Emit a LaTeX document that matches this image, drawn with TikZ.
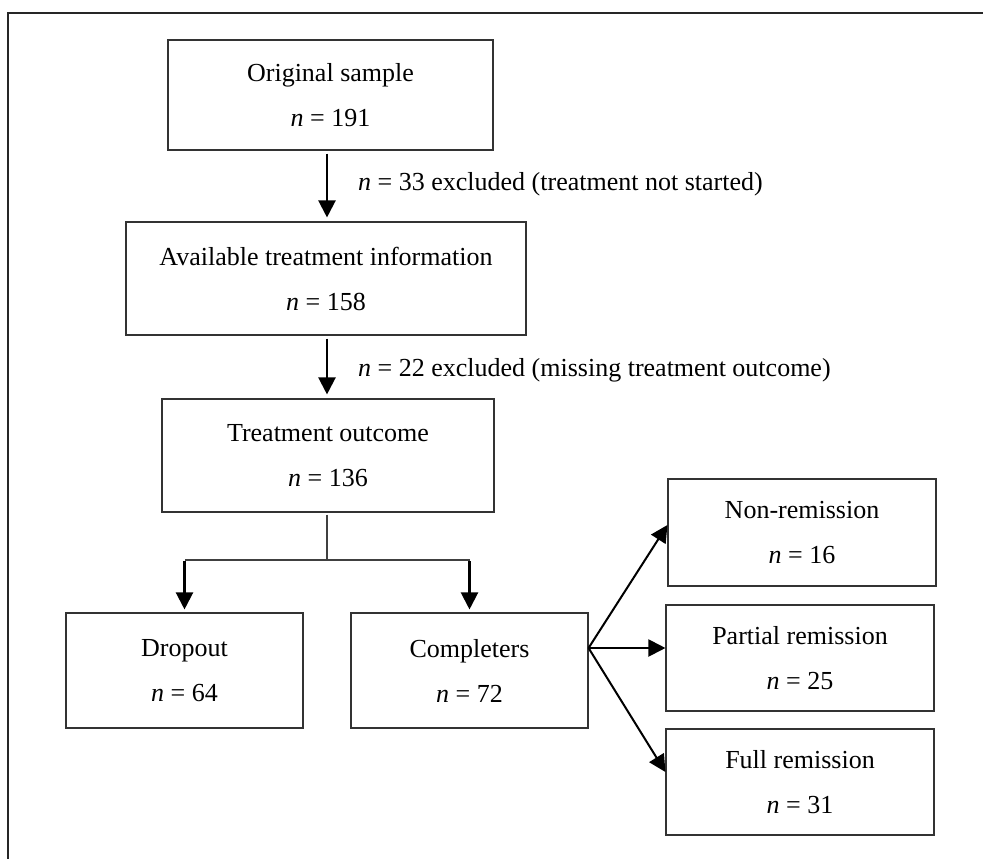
\documentclass[tikz,border=0pt]{standalone}
\usepackage{fontspec}
\setmainfont{Liberation Serif}
\usetikzlibrary{arrows.meta}
\tikzset{
  box/.style={draw=black!80, line width=1.1pt, fill=white, align=center,
    font=\fontsize{26}{45}\selectfont, inner sep=0pt},
  arr/.style={draw=black, line width=2.2pt, -{Triangle[length=17pt,width=17pt]}},
  thin/.style={draw=black!75, line width=1.1pt},
  lbl/.style={anchor=west, inner sep=0pt, font=\fontsize{26}{28}\selectfont},
}
\begin{document}
\begin{tikzpicture}[x=1pt,y=-1pt]
\useasboundingbox (0,0) rectangle (983,859);
\draw[line width=2.2pt, black!85] (8,859) -- (8,13) -- (983,13);
\node[box, minimum width=325pt, minimum height=110pt] (orig) at (330.5,95) {Original sample\\\textit{n} = 191};
\node[box, minimum width=400pt, minimum height=113pt] (avail) at (326,278.5) {Available treatment information\\\textit{n} = 158};
\node[box, minimum width=332pt, minimum height=113pt] (outc) at (328,455.5) {Treatment outcome\\\textit{n} = 136};
\node[box, minimum width=237pt, minimum height=115pt] (drop) at (184.5,670.5) {Dropout\\\textit{n} = 64};
\node[box, minimum width=237pt, minimum height=115pt] (comp) at (469.5,670.5) {Completers\\\textit{n} = 72};
\node[box, minimum width=268pt, minimum height=107pt] (nonr) at (802,532.5) {Non-remission\\\textit{n} = 16};
\node[box, minimum width=268pt, minimum height=106pt] (part) at (800,658) {Partial remission\\\textit{n} = 25};
\node[box, minimum width=268pt, minimum height=106pt] (full) at (800,782) {Full remission\\\textit{n} = 31};
\coordinate (x0) at (327,0);
\draw[arr] ([yshift=-3pt]orig.south -| x0) -- ([yshift=4pt]avail.north -| x0);
\draw[arr] ([yshift=-3pt]avail.south -| x0) -- ([yshift=4pt]outc.north -| x0);
\node[lbl] (l1) at (358,184) {\textit{n} = 33 excluded (treatment not started)};
\node[lbl] (l2) at (358,370) {\textit{n} = 22 excluded (missing treatment outcome)};
\coordinate (split) at (327,560);
\draw[thin] ([yshift=-2pt]outc.south -| x0) -- (split);
\draw[thin] (split) -- (split -| drop.north);
\draw[thin] (split) -- (split -| comp.north);
\draw[arr] ([yshift=-1pt]split -| drop.north) -- ([yshift=3pt]drop.north);
\draw[arr] ([yshift=-1pt]split -| comp.north) -- ([yshift=3pt]comp.north);
\coordinate (fan) at ([yshift=22.5pt]comp.east);
\draw[arr, line width=2pt] (fan) -- ([yshift=7.5pt]nonr.west);
\draw[arr, line width=2pt] (fan) -- ([yshift=10pt]part.west);
\draw[arr, line width=2pt] (fan) -- ([yshift=10pt]full.west);
\end{tikzpicture}
\end{document}
